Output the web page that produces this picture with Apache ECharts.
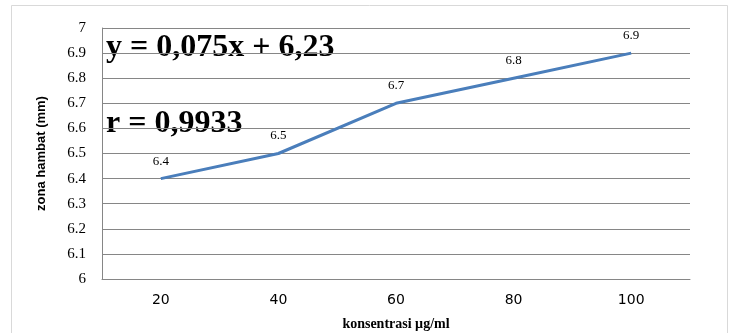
<!DOCTYPE html>
<html>
<head>
<meta charset="utf-8">
<script src="https://cdn.jsdelivr.net/npm/echarts@6/dist/echarts.min.js"></script>
<style>html,body{margin:0;padding:0;background:#fff}#c{width:730px;height:333px}</style>
</head>
<body>
<div id="c"></div>
<script>
const categories = ['20', '40', '60', '80', '100'];
const values = [6.4, 6.5, 6.7, 6.8, 6.9];
const yTicks = { min: 6, max: 7, interval: 0.1 };
const xTitle = 'konsentrasi µg/ml';
const yTitle = 'zona hambat (mm)';
const equation = 'y = 0,075x + 6,23';
const rText = 'r = 0,9933';

const chart = echarts.init(document.getElementById('c'), null, { renderer: 'canvas' });
chart.setOption({
  animation: false,
  backgroundColor: '#fff',
  grid: { left: 102, right: 40, top: 28, bottom: 54, containLabel: false, outerBoundsMode: 'none' },
  xAxis: {
    type: 'category',
    data: categories,
    boundaryGap: true,
    axisLine: { show: true, lineStyle: { color: '#868686', width: 1 } },
    axisTick: { show: false },
    axisLabel: { color: '#000', fontFamily: 'DejaVu Sans', fontSize: 14, margin: 14 },
    name: xTitle,
    nameLocation: 'middle',
    nameGap: 38,
    nameTextStyle: { fontFamily: 'Liberation Serif', fontWeight: 'bold', fontSize: 14, color: '#000' }
  },
  yAxis: {
    type: 'value',
    min: yTicks.min,
    max: yTicks.max,
    interval: yTicks.interval,
    axisLine: { show: true, lineStyle: { color: '#868686', width: 1 } },
    axisTick: { show: false },
    splitLine: { show: true, lineStyle: { color: '#868686', width: 1 } },
    axisLabel: { color: '#000', fontFamily: 'Liberation Serif', fontSize: 15, margin: 16,
      formatter: v => (Math.round(v * 10) / 10).toString() },
    name: yTitle,
    nameLocation: 'middle',
    nameGap: 54,
    nameRotate: 90,
    nameTextStyle: { fontFamily: 'Liberation Sans', fontWeight: 'bold', fontSize: 13, color: '#000' }
  },
  series: [{
    type: 'line',
    data: values,
    symbol: 'circle',
    symbolSize: 2,
    showSymbol: true,
    itemStyle: { color: 'rgba(74,126,187,0)', borderWidth: 0 },
    lineStyle: { color: '#4a7ebb', width: 3 },
    label: { show: true, position: 'top', distance: 10, color: '#000', fontFamily: 'Liberation Serif', fontSize: 13,
      formatter: p => p.value.toString() }
  }],
  graphic: [
    { type: 'rect', shape: { x: 11.5, y: 5.5, width: 716, height: 340 }, style: { fill: 'none', stroke: '#d9d9d9', lineWidth: 1 }, silent: true, z: -1 },
    { type: 'text', left: 106, top: 32, style: { text: equation, font: 'bold 32px "Liberation Serif"', fill: '#000' } },
    { type: 'text', left: 106, top: 108, style: { text: rText, font: 'bold 32px "Liberation Serif"', fill: '#000' } }
  ]
});
</script>
</body>
</html>
